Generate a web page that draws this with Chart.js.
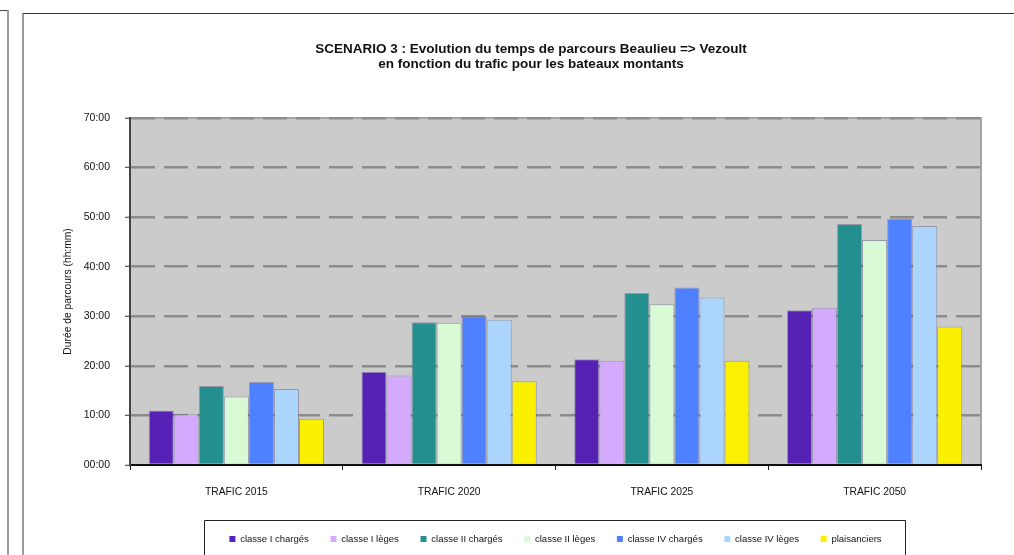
<!DOCTYPE html>
<html>
<head>
<meta charset="utf-8">
<title>Scenario 3 - temps de parcours</title>
<script src="https://cdn.jsdelivr.net/npm/chart.js@4/dist/chart.umd.min.js"></script>
<style>
  html, body { margin: 0; padding: 0; background: #fff; overflow: hidden; width: 1014px; height: 555px; }
  #chart { position: absolute; left: 22px; top: 13px; }
  .side { position: absolute; left: 7px; top: 10px; height: 560px; border-left: 2px solid #9a9a9a; }
  .sideTop { position: absolute; left: 0; top: 10px; width: 8px; border-top: 1px solid #444; }
  .frame { position: absolute; left: 22px; top: 13px; width: 1040px; height: 560px; border-left: 2px solid #9a9a9a; border-top: 1px solid #333; pointer-events: none; }
</style>
</head>
<body>
<div class="sideTop"></div>
<div class="side"></div>
<canvas id="chart" width="1018" height="542"></canvas>
<div class="frame"></div>
<script>
// temps de parcours en heures
const categories = ['TRAFIC 2015', 'TRAFIC 2020', 'TRAFIC 2025', 'TRAFIC 2050'];
const seriesNames = ['classe I chargés', 'classe I lèges', 'classe II chargés', 'classe II lèges', 'classe IV chargés', 'classe IV lèges', 'plaisanciers'];
const classe1Charges = [11.0, 18.8, 21.3, 31.2];
const classe1Leges = [10.2, 18.05, 21.0, 31.7];
const classe2Charges = [15.9, 28.8, 34.7, 48.6];
const classe2Leges = [13.8, 28.7, 32.4, 45.4];
const classe4Charges = [16.75, 30.0, 35.8, 49.65];
const classe4Leges = [15.3, 29.3, 33.8, 48.2];
const plaisanciers = [9.3, 16.9, 21.0, 27.9];
const yTicks = [0, 10, 20, 30, 40, 50, 60, 70];

const seriesValues = [classe1Charges, classe1Leges, classe2Charges, classe2Leges, classe4Charges, classe4Leges, plaisanciers];
const colors = ['#5522b5', '#d4aaff', '#238f8f', '#d8fbd6', '#4f81fe', '#acd5fe', '#fbf000'];

const FONT = '"Liberation Sans", Arial, sans-serif';

function hhmm(v) {
    const h = Math.floor(v);
    const m = Math.round((v - h) * 60);
    return String(h).padStart(2, '0') + ':' + String(m).padStart(2, '0');
}

// fond gris de la zone de tracé + bordure, et cadre de la légende
const plotDecor = {
    id: 'plotDecor',
    beforeDraw(chart) {
        const {ctx, chartArea: a} = chart;
        ctx.save();
        ctx.fillStyle = '#cbcbcb';
        ctx.fillRect(a.left, a.top, a.right - a.left, a.bottom - a.top);
        ctx.strokeStyle = '#a3a3a3';
        ctx.lineWidth = 2;
        ctx.beginPath();
        ctx.moveTo(a.left, a.top);
        ctx.lineTo(a.right, a.top);
        ctx.lineTo(a.right, a.bottom);
        ctx.stroke();
        ctx.restore();
    },
    afterDraw(chart) {
        const hb = chart.legend.legendHitBoxes;
        if (!hb || !hb.length) return;
        const last = hb[hb.length - 1];
        const cy = hb[0].top + hb[0].height / 2;
        const ctx = chart.ctx;
        ctx.save();
        ctx.strokeStyle = '#222';
        ctx.lineWidth = 1;
        const x1 = Math.round(hb[0].left - 25) + 0.5;
        const x2 = Math.round(last.left + last.width + 23) + 0.5;
        const y1 = Math.round(cy - 19) + 0.5;
        ctx.beginPath();
        ctx.moveTo(x1, chart.height + 5);
        ctx.lineTo(x1, y1);
        ctx.lineTo(x2, y1);
        ctx.lineTo(x2, chart.height + 5);
        ctx.stroke();
        ctx.restore();
    }
};

const ctx = document.getElementById('chart').getContext('2d');
new Chart(ctx, {
    type: 'bar',
    data: {
        labels: categories,
        datasets: seriesNames.map((name, i) => ({
            label: name,
            data: seriesValues[i],
            backgroundColor: colors[i],
            borderColor: 'rgba(90, 90, 130, 0.45)',
            borderWidth: 1,
            categoryPercentage: 0.824,
            barPercentage: 1
        }))
    },
    options: {
        responsive: false,
        animation: false,
        layout: { padding: { left: 0, right: 0, top: 0, bottom: 1.3 } },
        plugins: {
            title: {
                display: true,
                text: ['SCENARIO 3 : Evolution du temps de parcours Beaulieu => Vezoult', 'en fonction du trafic pour les bateaux montants'],
                color: '#111',
                font: { family: FONT, size: 13.5, weight: 'bold', lineHeight: 1.11 },
                padding: { top: 29, bottom: 46 }
            },
            legend: {
                position: 'bottom',
                fullSize: false,
                labels: {
                    boxWidth: 6,
                    boxHeight: 6,
                    padding: 21.7,
                    color: '#111',
                    font: { family: FONT, size: 9.5 },
                    generateLabels(chart) {
                        return Chart.defaults.plugins.legend.labels.generateLabels(chart).map(l => {
                            l.lineWidth = 0;
                            return l;
                        });
                    }
                }
            },
            tooltip: { enabled: false }
        },
        scales: {
            x: {
                afterFit(scale) { scale.height = 47.6; },
                grid: {
                    offset: true,
                    drawOnChartArea: false,
                    drawTicks: true,
                    tickLength: 5,
                    tickColor: '#111',
                    tickWidth: 1
                },
                border: { display: true, color: '#111', width: 2 },
                ticks: {
                    color: '#111',
                    padding: 16,
                    font: { family: FONT, size: 10.3 },
                    maxRotation: 0
                }
            },
            y: {
                min: 0,
                max: 70,
                afterFit(scale) { scale.width = 108; },
                afterBuildTicks(scale) { scale.ticks = yTicks.map(v => ({ value: v })); },
                grid: {
                    color: c => (c.tick && c.tick.value === 0) ? 'rgba(0,0,0,0)' : '#8c8c8c',
                    lineWidth: 2.5,
                    tickLength: 5,
                    tickColor: '#333',
                    tickWidth: 1,
                    tickBorderDash: []
                },
                border: { display: true, color: '#444', width: 2, dash: [24, 9] },
                ticks: {
                    color: '#111',
                    padding: 15,
                    font: { family: FONT, size: 10.5 },
                    callback: v => hhmm(v)
                },
                title: {
                    display: true,
                    text: 'Durée de parcours (hh:mm)',
                    color: '#111',
                    font: { family: FONT, size: 10.3 },
                    padding: { top: 40, bottom: 0 }
                }
            },
            // marge droite du cadre (le titre reste centré sur tout le cadre)
            spacer: {
                type: 'linear',
                position: 'right',
                display: true,
                afterFit(scale) { scale.width = 59; },
                grid: { display: false },
                border: { display: false },
                ticks: { display: false }
            }
        }
    },
    plugins: [plotDecor]
});
</script>
</body>
</html>
